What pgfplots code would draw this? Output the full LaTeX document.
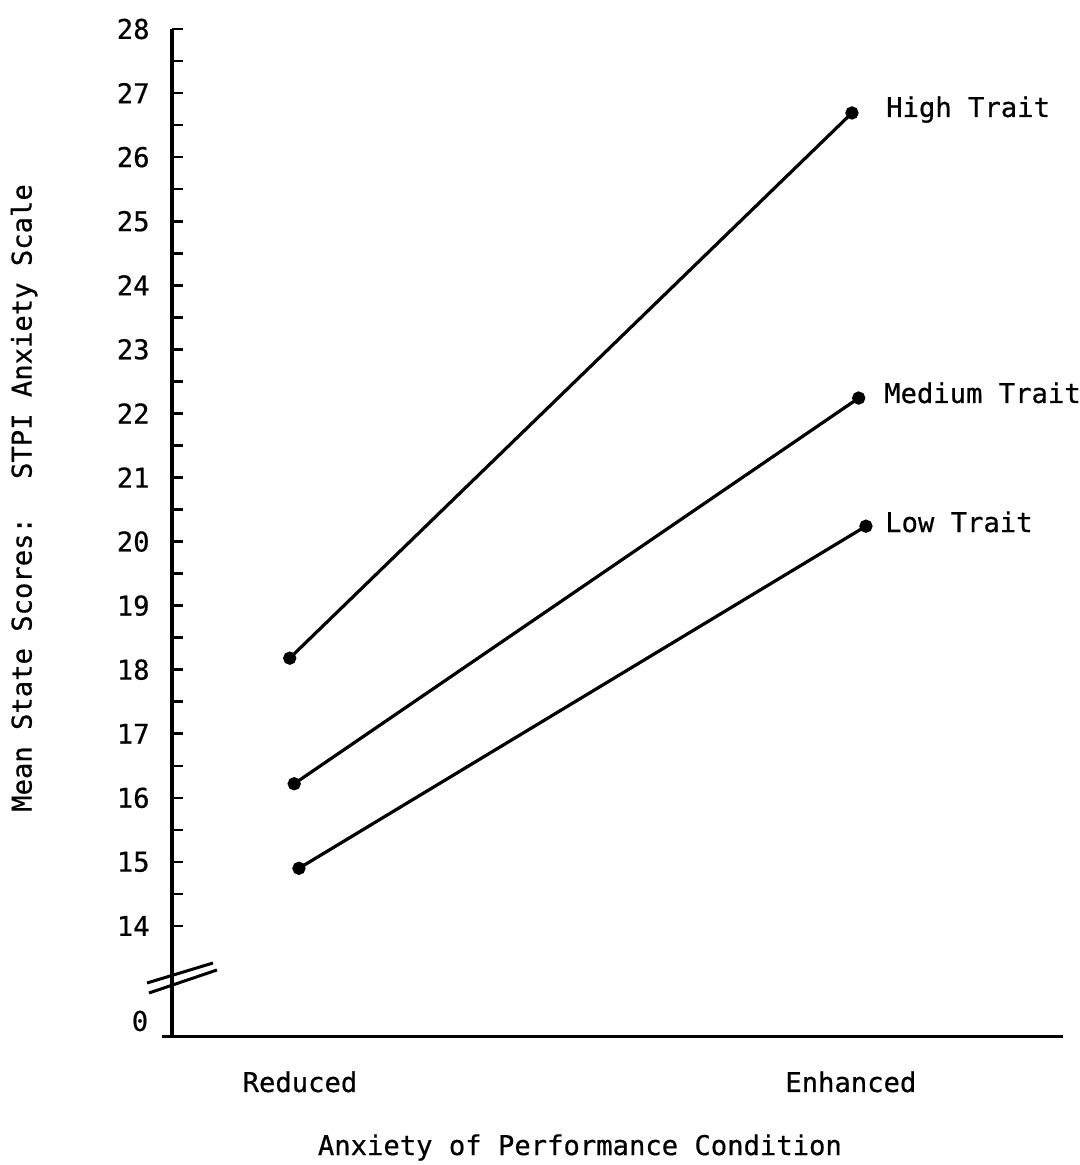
\documentclass[border=0pt]{standalone}
\usepackage{fontspec}
\setmainfont[FakeBold=0.6]{DejaVu Sans Mono}
\usepackage{pgfplots}
\pgfplotsset{compat=1.18}
\newcommand{\tf}{\fontsize{13.6}{16}\selectfont}
\begin{document}
\begin{tikzpicture}
\begin{axis}[
  scale only axis,
  width=445.5pt, height=504pt,
  xmin=-0.2147, xmax=1.3792,
  ymin=12.27, ymax=28,
  axis x line=bottom, axis y line=left,
  axis line style={-, line width=1.6pt, black},
  xtick=\empty,
  ytick={14,15,...,28},
  minor ytick={14.5,15.5,...,27.5},
  ytick align=inside,
  major tick length=5.5pt, minor tick length=5.5pt,
  every tick/.style={black, line width=1.3pt},
  yticklabel style={anchor=east, inner sep=0pt, xshift=-11pt, font=\tf},
  /pgf/number format/assume math mode=true,
  clip=false,
]
\addplot[black, line width=1.6pt, mark=*, mark size=2.5pt] coordinates {(-0.004,18.18) (1.002,26.69)};
\addplot[black, line width=1.6pt, mark=*, mark size=2.5pt] coordinates {(0.004,16.22) (1.014,22.24)};
\addplot[black, line width=1.6pt, mark=*, mark size=2.5pt] coordinates {(0.0125,14.90) (1.027,20.24)};

% x-axis extension and x ticks
\draw[line width=1.6pt] (axis cs:-0.2326,12.27) -- (axis cs:-0.2147,12.27);
\draw[line width=1.3pt] (axis cs:0,12.27) ++(0,-5pt) -- ++(0,10pt);
\draw[line width=1.3pt] (axis cs:1,12.27) ++(0,-4pt) -- ++(0,8pt);

% axis break
\draw[line width=1.5pt] (axis cs:-0.2594,13.110) -- (axis cs:-0.1413,13.422);
\draw[line width=1.5pt] (axis cs:-0.2558,12.954) -- (axis cs:-0.1342,13.313);

% zero label
\node[font=\tf] at (axis cs:-0.2719,12.517) {0};

% category labels
\node[font=\tf, anchor=base] at (axis cs:0.0143,11.409) {Reduced};
\node[font=\tf, anchor=base] at (axis cs:1.0,11.409) {Enhanced};
\node[font=\tf, anchor=base] at (axis cs:0.5152,10.425) {Anxiety of Performance Condition};
\node[font=\tf, rotate=90] at (axis cs:-0.4794,20.68) {Mean State Scores:~ STPI Anxiety Scale};

% series labels
\node[font=\tf, anchor=base west, inner sep=0pt] at (axis cs:1.0626,26.627) {High Trait};
\node[font=\tf, anchor=base west, inner sep=0pt] at (axis cs:1.0590,22.163) {Medium Trait};
\node[font=\tf, anchor=base west, inner sep=0pt] at (axis cs:1.0608,20.149) {Low Trait};

\coordinate (bbl) at (axis cs:-0.5224,10.269);
\coordinate (btr) at (axis cs:1.4097,28.4526);
\end{axis}
\pgfresetboundingbox
\useasboundingbox (bbl) rectangle (btr);
\end{tikzpicture}
\end{document}
